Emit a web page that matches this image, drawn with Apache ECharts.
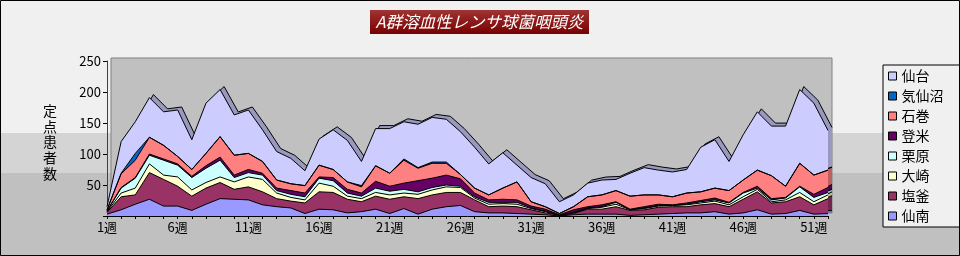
<!DOCTYPE html>
<html><head><meta charset="utf-8">
<script src="https://cdn.jsdelivr.net/npm/echarts@6/dist/echarts.min.js"></script>
<style>
html,body{margin:0;padding:0;}
#c{width:960px;height:256px;background:linear-gradient(to bottom,#f0f0f0 0px,#f0f0f0 133px,#d4d4d4 133px,#d4d4d4 173px,#c0c0c0 173px,#c0c0c0 256px);}
</style>
</head><body><div id="c"></div>
<script>
const weeks = [];
for (let i = 1; i <= 52; i++) weeks.push(i + '週');

const senan      = [3,10,19,27,16,16,9,19,28,27, 26,18,15,13,4,11,10,5,7,11, 4,12,3,11,15,17,7,5,5,4, 3,2,0,2,3,3,3,1,2,3, 4,5,5,7,3,5,10,3,4,9, 3,4];
const shiogama   = [3,21,15,43,43,32,23,26,26,16, 21,21,13,11,17,28,28,22,16,21, 23,19,25,23,23,21,19,10,11,11, 7,3,1,2,8,8,12,8,8,11, 11,10,13,13,12,22,29,18,19,22, 15,24];
const osaki      = [1,6,11,14,7,15,10,9,9,12, 16,20,9,6,5,14,10,5,5,6, 7,6,7,8,9,8,3,4,4,4, 2,2,0,1,1,3,4,1,2,2, 2,3,3,4,3,4,4,2,3,7, 5,6];
const kurihara   = [1,8,16,14,24,19,20,23,27,7, 7,7,4,5,5,8,9,5,4,7, 6,6,4,4,3,2,2,3,2,3, 1,1,0,1,1,1,3,0,1,1, 0,1,2,2,3,6,2,3,3,9, 7,4];
const tome       = [0,1,1,2,2,2,2,4,5,4, 5,3,4,6,6,2,5,6,5,11, 8,10,18,15,16,12,6,4,5,4, 3,3,1,4,2,3,1,1,2,2, 1,2,2,3,1,1,3,2,1,1, 5,8];
const ishinomaki = [2,22,28,27,22,12,11,20,33,32, 26,19,13,11,12,19,13,12,10,25, 21,37,20,24,19,7,8,8,18,29, 7,4,2,5,16,16,18,21,19,15, 13,16,14,16,19,20,26,37,18,37, 31,28];
const kesennuma  = [0,1,11,0,0,0,0,0,0,0, 0,0,0,0,0,0,0,0,2,0, 0,2,1,2,2,0,0,0,0,0, 0,0,0,0,0,0,0,0,0,0, 0,0,0,0,0,0,0,0,0,0, 0,0];
const sendai     = [5,51,51,64,54,75,48,81,76,65, 70,51,46,41,24,42,64,67,39,60, 72,60,70,72,69,69,66,50,57,27, 39,37,19,19,22,24,18,37,44,40, 40,38,72,78,47,73,94,80,97,119, 116,64];

const seriesNames = ['仙南','塩釜','大崎','栗原','登米','石巻','気仙沼','仙台'];
const seriesData = [senan, shiogama, osaki, kurihara, tome, ishinomaki, kesennuma, sendai];
const frontColors = ['#9999ff','#993366','#ffffcc','#ccffff','#660066','#ff8080','#0066cc','#ccccff'];
const sideColors  = ['#7373bf','#73264d','#bfbf99','#99bfbf','#4d004d','#bf6060','#004d99','#9999bf'];
const yTicks = [0,50,100,150,200,250];

const fontFam = '"Noto Sans CJK JP","Noto Sans",sans-serif';
const chart = echarts.init(document.getElementById('c'), null, {renderer:'canvas'});

const series = [];
seriesNames.forEach((n, i) => {
  series.push({
    name: 'b' + n, type: 'line', xAxisIndex: 1, yAxisIndex: 1, stack: 'back',
    data: seriesData[i], symbol: 'none', showSymbol: false, silent: true, z: 1,
    color: sideColors[i],
    lineStyle: {color: '#000', width: 1},
    areaStyle: {color: sideColors[i], opacity: 1},
    animation: false
  });
});
seriesNames.forEach((n, i) => {
  series.push({
    name: n, type: 'line', xAxisIndex: 0, yAxisIndex: 0, stack: 'front',
    data: seriesData[i], symbol: 'none', showSymbol: false, z: 3,
    color: frontColors[i],
    itemStyle: {color: frontColors[i]},
    lineStyle: {color: '#000', width: 1},
    areaStyle: {color: frontColors[i], opacity: 1},
    animation: false
  });
});

const option = {
  animation: false,
  backgroundColor: 'transparent',
  grid: [
    {left: 107, top: 61, right: 132, bottom: 40, containLabel: false},
    {left: 111, top: 58, right: 128, bottom: 43, show: true, backgroundColor: '#c0c0c0', borderColor: '#808080', borderWidth: 1, z: 0}
  ],
  xAxis: [
    {type: 'category', gridIndex: 0, data: weeks, boundaryGap: false,
     axisLine: {show: true, lineStyle: {color: '#000', width: 1}},
     axisTick: {show: true, interval: 0, length: 3, lineStyle: {color: '#000'}},
     axisLabel: {interval: 4, color: '#000', fontSize: 13, margin: 5, fontFamily: fontFam},
     splitLine: {show: false}},
    {type: 'category', gridIndex: 1, data: weeks, boundaryGap: false, show: false}
  ],
  yAxis: [
    {type: 'value', gridIndex: 0, min: yTicks[0], max: yTicks[yTicks.length-1], interval: 50,
     axisLine: {show: true, lineStyle: {color: '#404040'}},
     axisTick: {show: true, length: 4, lineStyle: {color: '#000'}},
     axisLabel: {color: '#000', fontSize: 13, margin: 6, fontFamily: fontFam,
       formatter: v => (v === 0 ? '' : String(v))},
     splitLine: {show: false}},
    {type: 'value', gridIndex: 1, min: yTicks[0], max: yTicks[yTicks.length-1], interval: 50, show: false, splitLine: {show: false}}
  ],
  legend: {
    data: seriesNames.slice().reverse(),
    orient: 'vertical', left: 883, top: 65,
    backgroundColor: '#f0f0f0', borderColor: '#000', borderWidth: 1,
    padding: [4, 22, 4, 5], itemGap: 6, itemWidth: 8, itemHeight: 8,
    icon: 'rect',
    itemStyle: {borderColor: '#000', borderWidth: 1},
    textStyle: {fontSize: 14, color: '#000', fontFamily: fontFam, lineHeight: 14},
    selectedMode: false
  },
  graphic: [
    {type: 'rect', z: 100, shape: {x: 370, y: 10, width: 219, height: 24},
     style: {fill: new echarts.graphic.LinearGradient(0, 0, 0, 1, [{offset: 0, color: '#a03333'}, {offset: 1, color: '#780000'}])}},
    {type: 'text', z: 101, x: 479.5, y: 22,
     style: {text: 'A群溶血性レンサ球菌咽頭炎', fill: '#ffffff', font: 'italic 16.5px ' + fontFam,
       textAlign: 'center', textVerticalAlign: 'middle', align: 'center', verticalAlign: 'middle'}},
    {type: 'text', z: 101, x: 50, y: 103,
     style: {text: '定\n点\n患\n者\n数', fill: '#000', font: '14px ' + fontFam, lineHeight: 15.6,
       textAlign: 'center', align: 'center', textVerticalAlign: 'top', verticalAlign: 'top'}},
    {type: 'rect', z: 102, shape: {x: 0.5, y: 0.5, width: 959, height: 255},
     style: {fill: 'none', stroke: '#000', lineWidth: 1}}
  ],
  series: series
};
chart.setOption(option);
</script>
</body></html>
